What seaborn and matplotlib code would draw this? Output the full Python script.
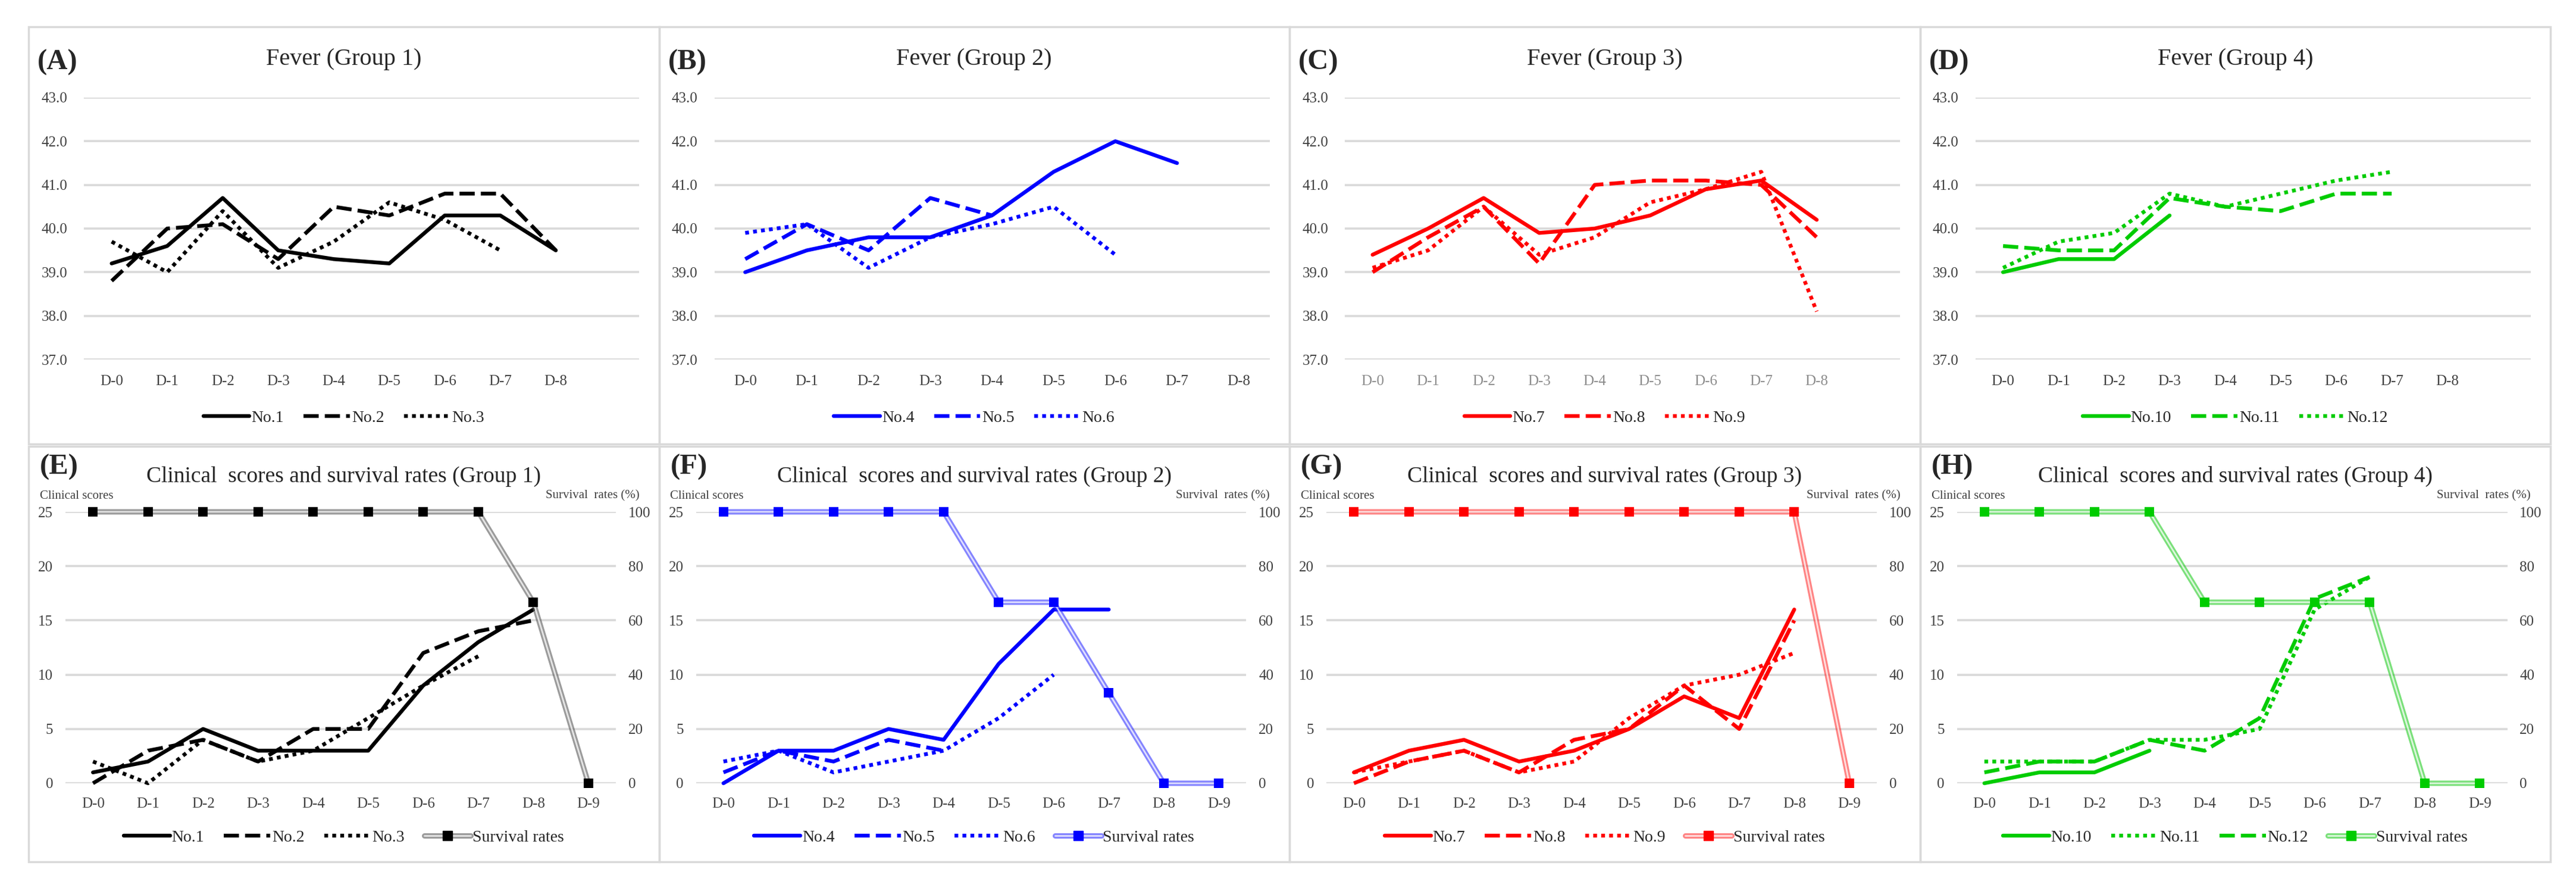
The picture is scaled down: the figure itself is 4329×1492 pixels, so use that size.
import numpy as np
import pandas as pd
import matplotlib
matplotlib.use("Agg")
import matplotlib.pyplot as plt
import seaborn as sns
from matplotlib.patches import Rectangle
from matplotlib.lines import Line2D
from matplotlib.legend_handler import HandlerTuple

sns.set_style("white")
plt.rcParams["font.family"] = ["Liberation Serif", "DejaVu Serif"]

# ---- data ----
fever_days = ["D-0", "D-1", "D-2", "D-3", "D-4", "D-5", "D-6", "D-7", "D-8"]
score_days = ["D-0", "D-1", "D-2", "D-3", "D-4", "D-5", "D-6", "D-7", "D-8", "D-9"]

fever_no1 = [39.2, 39.6, 40.7, 39.5, 39.3, 39.2, 40.3, 40.3, 39.5]
fever_no2 = [38.8, 40.0, 40.1, 39.3, 40.5, 40.3, 40.8, 40.8, 39.5]
fever_no3 = [39.7, 39.0, 40.4, 39.1, 39.7, 40.6, 40.2, 39.5]
fever_no4 = [39.0, 39.5, 39.8, 39.8, 40.3, 41.3, 42.0, 41.5]
fever_no5 = [39.3, 40.1, 39.5, 40.7, 40.3]
fever_no6 = [39.9, 40.1, 39.1, 39.8, 40.1, 40.5, 39.4]
fever_no7 = [39.4, 40.0, 40.7, 39.9, 40.0, 40.3, 40.9, 41.1, 40.2]
fever_no8 = [39.0, 39.8, 40.5, 39.2, 41.0, 41.1, 41.1, 41.0, 39.8]
fever_no9 = [39.1, 39.5, 40.5, 39.4, 39.8, 40.6, 40.9, 41.3, 38.1]
fever_no10 = [39.0, 39.3, 39.3, 40.3]
fever_no11 = [39.6, 39.5, 39.5, 40.7, 40.5, 40.4, 40.8, 40.8]
fever_no12 = [39.1, 39.7, 39.9, 40.8, 40.5, 40.8, 41.1, 41.3]

score_no1 = [1, 2, 5, 3, 3, 3, 9, 13, 16]
score_no2 = [0, 3, 4, 2, 5, 5, 12, 14, 15]
score_no3 = [2, 0, 4, 2, 3, 6, 9, 11.7]
score_no4 = [0, 3, 3, 5, 4, 11, 16, 16]
score_no5 = [1, 3, 2, 4, 3]
score_no6 = [2, 3, 1, 2, 3, 6, 10]
score_no7 = [1, 3, 4, 2, 3, 5, 8, 6, 16]
score_no8 = [0, 2, 3, 1, 4, 5, 9, 5, 15]
score_no9 = [1, 2, 3, 1, 2, 6, 9, 10, 12]
score_no10 = [0, 1, 1, 3]
score_no11 = [2, 2, 2, 4, 4, 5, 16, 19]
score_no12 = [1, 2, 2, 4, 3, 6, 17, 19]

survival_g1 = [100, 100, 100, 100, 100, 100, 100, 100, 66.7, 0]
survival_g2 = [100, 100, 100, 100, 100, 66.7, 66.7, 33.3, 0, 0]
survival_g3 = [100, 100, 100, 100, 100, 100, 100, 100, 100, 0]
survival_g4 = [100, 100, 100, 100, 66.7, 66.7, 66.7, 66.7, 0, 0]

group_colors = ["#000000", "#0000ff", "#ff0000", "#00cc00"]
surv_colors = ["#595959", "#3333ff", "#ff3333", "#22cc22"]

fever_panels = [
    ("(A)", "Fever (Group 1)", [("No.1", fever_no1, "solid"), ("No.2", fever_no2, "dashed"), ("No.3", fever_no3, "dotted")], 9.5),
    ("(B)", "Fever (Group 2)", [("No.4", fever_no4, "solid"), ("No.5", fever_no5, "dashed"), ("No.6", fever_no6, "dotted")], 8.5),
    ("(C)", "Fever (Group 3)", [("No.7", fever_no7, "solid"), ("No.8", fever_no8, "dashed"), ("No.9", fever_no9, "dotted")], 9.5),
    ("(D)", "Fever (Group 4)", [("No.10", fever_no10, "solid"), ("No.11", fever_no11, "dashed"), ("No.12", fever_no12, "dotted")], 9.5),
]
score_panels = [
    ("(E)", "Clinical  scores and survival rates (Group 1)", [("No.1", score_no1, "solid"), ("No.2", score_no2, "dashed"), ("No.3", score_no3, "dotted")], survival_g1),
    ("(F)", "Clinical  scores and survival rates (Group 2)", [("No.4", score_no4, "solid"), ("No.5", score_no5, "dashed"), ("No.6", score_no6, "dotted")], survival_g2),
    ("(G)", "Clinical  scores and survival rates (Group 3)", [("No.7", score_no7, "solid"), ("No.8", score_no8, "dashed"), ("No.9", score_no9, "dotted")], survival_g3),
    ("(H)", "Clinical  scores and survival rates (Group 4)", [("No.10", score_no10, "solid"), ("No.11", score_no11, "dotted"), ("No.12", score_no12, "dashed")], survival_g4),
]

line_styles = {"solid": "-", "dashed": (0, (4, 1.6)), "dotted": (0, (1, 1.1))}

W, H = 4329, 1492
fig = plt.figure(figsize=(W / 100, H / 100), dpi=100)


def fx(px):
    return px / W


def fy(py):
    return 1 - py / H


def add_axes_px(left, top, width, height):
    return fig.add_axes([fx(left), fy(top + height), width / W, height / H])


def style_axes(ax, tick_color="#404040"):
    for s in ax.spines.values():
        s.set_visible(False)
    ax.yaxis.grid(True, color="#d9d9d9", linewidth=2.6)
    ax.xaxis.grid(False)
    ax.set_axisbelow(True)
    ax.tick_params(length=0, labelsize=18, colors=tick_color)
    ax.set_xlabel("")
    ax.set_ylabel("")


def draw_series(ax, values, color, style, label):
    sns.lineplot(x=list(range(len(values))), y=values, ax=ax, color=color,
                 linewidth=4.6, linestyle=line_styles[style], legend=False)
    line = ax.lines[-1]
    line.set_label(label)
    line.set_clip_on(False)
    return line


panel_w = 1059.5
legend_kw = dict(loc="center", ncol=4, frameon=False, fontsize=20, handlelength=2.8,
                 handletextpad=0.1, columnspacing=1.2, labelcolor="#262626")

# ---- top row: fever ----
for i, (tag, title, series, xmax) in enumerate(fever_panels):
    left = 48 + i * panel_w
    fig.patches.append(Rectangle((fx(left), fy(746)), panel_w / W, 701 / H, transform=fig.transFigure,
                                 fill=False, edgecolor="#d9d9d9", linewidth=2.5))
    ax = add_axes_px(left + 93, 164, 933, 440)
    handles = [draw_series(ax, vals, group_colors[i], st, lab) for lab, vals, st in series]
    ax.set_xlim(-0.5, xmax)
    ax.set_ylim(37, 43)
    ax.set_yticks(np.arange(37, 43.1, 1.0))
    ax.set_yticklabels([f"{v:.1f}" for v in np.arange(37, 43.1, 1.0)])
    ax.set_xticks(range(len(fever_days)))
    ax.set_xticklabels(fever_days)
    style_axes(ax)
    if i == 2:
        ax.tick_params(axis="x", colors="#8c8c8c")
    ax.tick_params(axis="y", pad=20)
    ax.tick_params(axis="x", pad=19)
    cx = left + panel_w / 2
    fig.text(fx(left + 15), fy(105), tag, fontsize=35, fontweight="bold", ha="left", va="center")
    fig.text(fx(cx), fy(100), title, fontsize=29, ha="center", va="center")
    fig.legend(handles=handles, bbox_to_anchor=(fx(cx), fy(702)), **legend_kw)

# ---- bottom row: clinical scores + survival ----
for i, (tag, title, series, survival) in enumerate(score_panels):
    left = 48 + i * panel_w
    fig.patches.append(Rectangle((fx(left), fy(1448)), panel_w / W, 698 / H, transform=fig.transFigure,
                                 fill=False, edgecolor="#d9d9d9", linewidth=2.5))
    ax = add_axes_px(left + 62, 860, 925, 456)
    handles = [draw_series(ax, vals, group_colors[i], st, lab) for lab, vals, st in series]
    ax.set_xlim(-0.5, 9.5)
    ax.set_ylim(0, 25)
    ax.set_yticks(range(0, 26, 5))
    ax.set_xticks(range(len(score_days)))
    ax.set_xticklabels(score_days)
    style_axes(ax)
    ax.tick_params(axis="y", pad=15)
    ax.tick_params(axis="x", pad=17)

    ax2 = ax.twinx()
    xs = list(range(len(survival)))
    sns.lineplot(x=xs, y=survival, ax=ax2, color=surv_colors[i], linewidth=6.5, alpha=0.6, legend=False)
    outer = ax2.lines[-1]
    outer.set_clip_on(False)
    sns.lineplot(x=xs, y=survival, ax=ax2, color="white", linewidth=2.0, alpha=0.75, legend=False)
    inner = ax2.lines[-1]
    inner.set_clip_on(False)
    sns.scatterplot(x=xs, y=survival, ax=ax2, marker="s", s=140, color=group_colors[i],
                    edgecolor=group_colors[i], linewidth=0, zorder=5, legend=False, clip_on=False)
    ax2.set_ylim(0, 100)
    ax2.set_xlim(-0.5, 9.5)
    ax2.set_yticks(range(0, 101, 20))
    for s in ax2.spines.values():
        s.set_visible(False)
    ax2.tick_params(length=0, labelsize=18, colors="#404040", pad=15)
    ax2.set_ylabel("")

    mk = Line2D([], [], linestyle="none", marker="s", markersize=12, color=group_colors[i])
    handles.append((outer, inner, mk))
    labels = [h.get_label() for h in handles[:-1]] + ["Survival rates"]

    cx = left + panel_w / 2
    fig.text(fx(left + 19), fy(785), tag, fontsize=35, fontweight="bold", ha="left", va="center")
    fig.text(fx(cx), fy(800), title, fontsize=27, ha="center", va="center")
    fig.text(fx(left + 19), fy(833), "Clinical scores", fontsize=15, ha="left", va="center", color="#404040")
    fig.text(fx(left + panel_w - 33), fy(833), "Survival  rates (%)", fontsize=15, ha="right",
             va="center", color="#404040")
    fig.legend(handles=handles, labels=labels, bbox_to_anchor=(fx(cx), fy(1407)),
               handler_map={tuple: HandlerTuple(ndivide=1)}, **legend_kw)

fig.savefig("out.png", dpi=100, facecolor="white")
